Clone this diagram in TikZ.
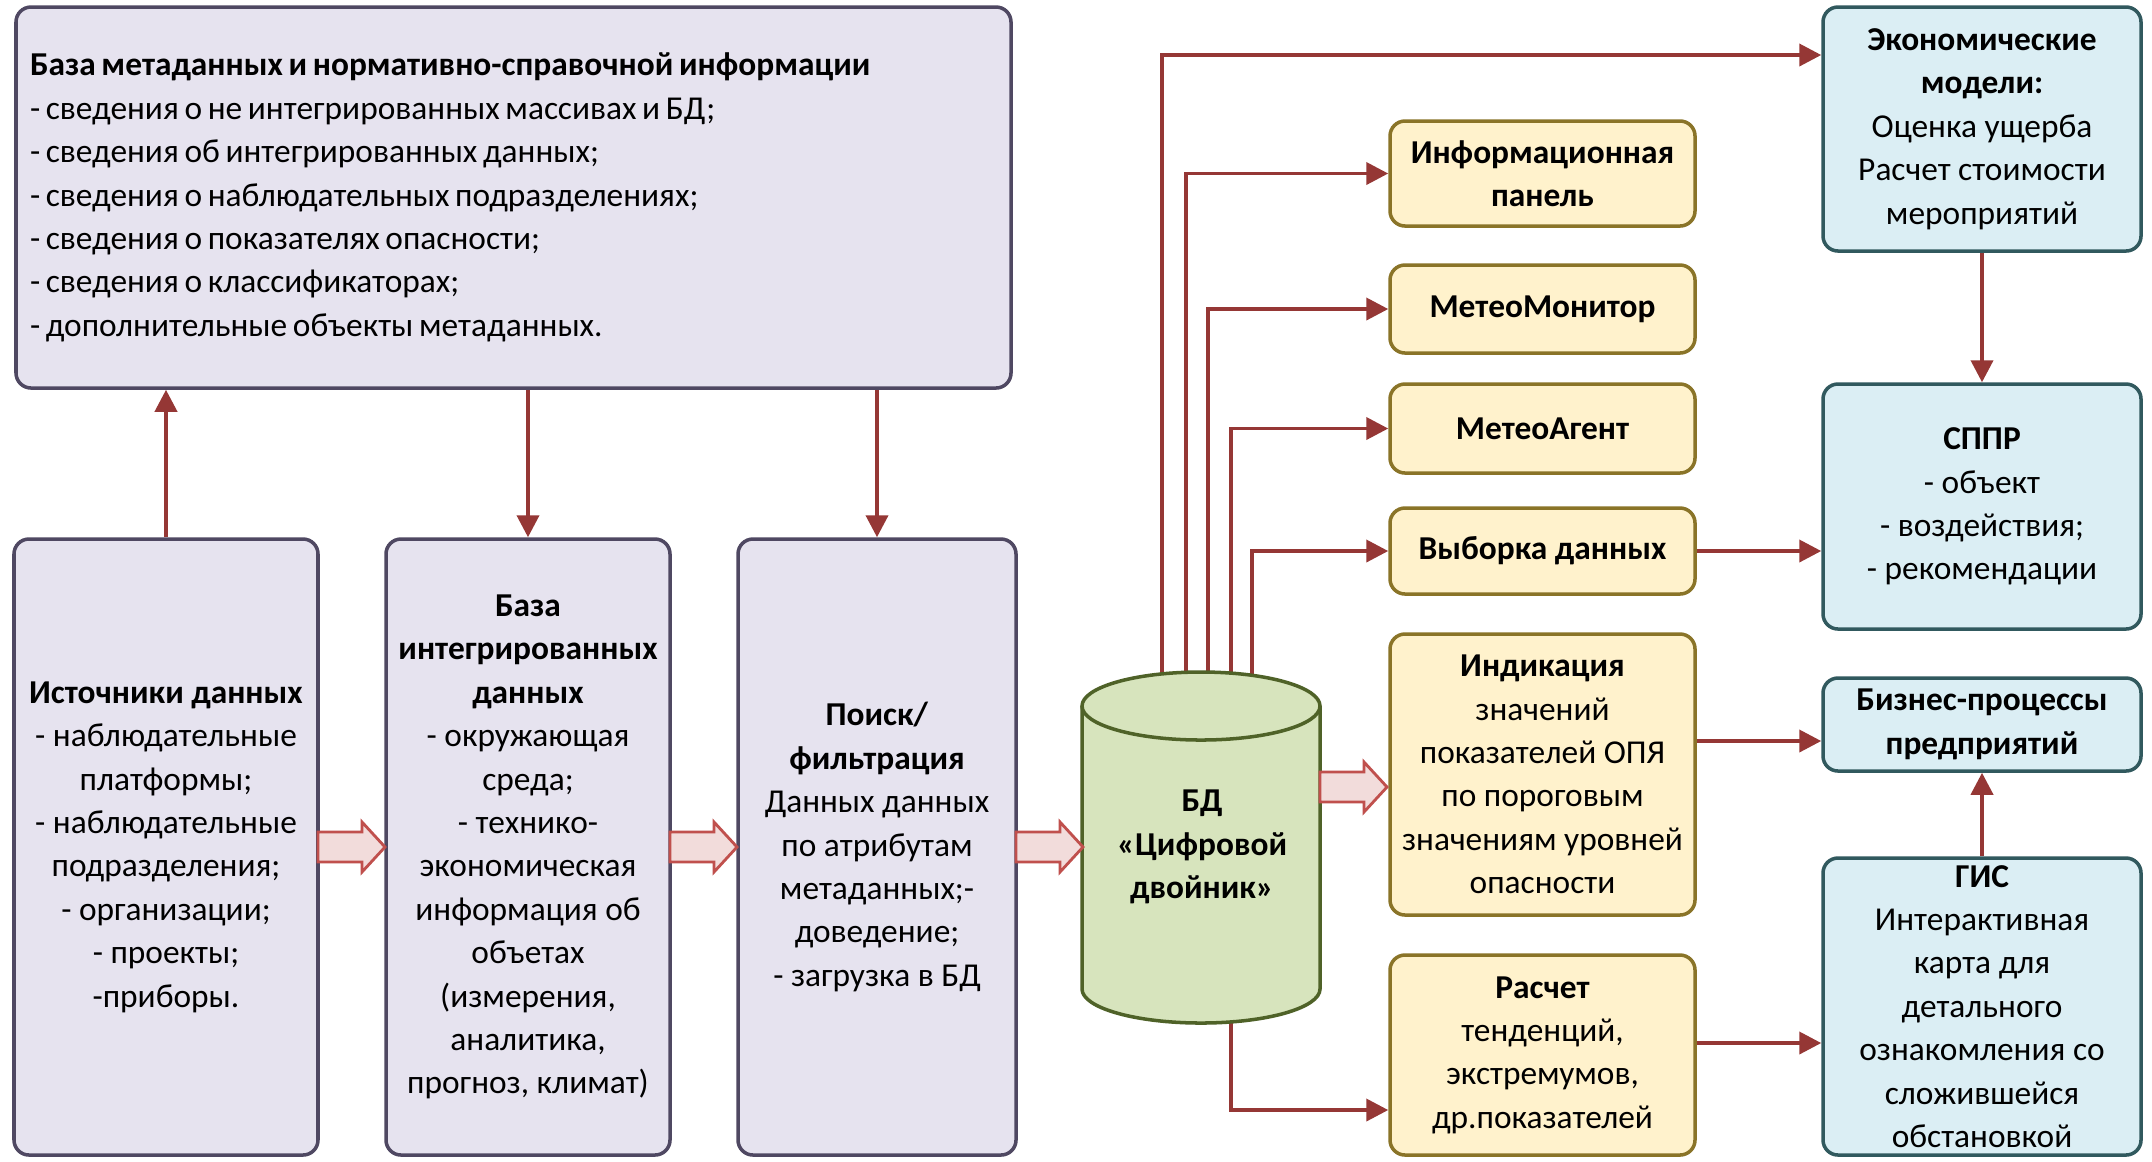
\documentclass[tikz,border=0pt]{standalone}
\usepackage{fontspec}
\setmainfont{Carlito}
\usetikzlibrary{arrows.meta}

\definecolor{lilafill}{HTML}{E6E3EF}
\definecolor{lilarand}{HTML}{4F4862}
\definecolor{gelbfill}{HTML}{FFF2CC}
\definecolor{gelbrand}{HTML}{8A7428}
\definecolor{blaufill}{HTML}{DBEEF4}
\definecolor{blaurand}{HTML}{31595E}
\definecolor{gruenfill}{HTML}{D7E4BD}
\definecolor{gruenrand}{HTML}{4F6228}
\definecolor{pfeilrot}{HTML}{953735}
\definecolor{blockfill}{HTML}{F2DCDB}
\definecolor{blockrand}{HTML}{C0504D}

\begin{document}
\begin{tikzpicture}[x=0.1mm,y=-0.1mm,
    every node/.style={font=\fontsize{9.5pt}{12.35pt}\selectfont, align=center, inner sep=0pt},
    kasten/.style={draw, line width=1pt, rounded corners=1.5mm},
    lila/.style={kasten, draw=lilarand, fill=lilafill},
    gelb/.style={kasten, draw=gelbrand, fill=gelbfill, minimum width=30.5mm},
    blau/.style={kasten, draw=blaurand, fill=blaufill, minimum width=31.8mm},
    pfeil/.style={draw=pfeilrot, line width=1.1pt, -{Triangle[length=2.2mm,width=2.2mm]}},
    dicker/.style={draw=blockrand, fill=blockfill, line width=0.8pt}]

    \fill[white] (0,0) rectangle (2152,1161);
    \useasboundingbox (0,0) rectangle (2152,1161);

    % Metadatenbasis oben links
    \node[lila, minimum width=99.5mm, minimum height=38.1mm, text width=96.7mm, align=left] (meta) at (513.5,197.5)
      {\spaceskip=0.75\fontdimen2\font
       \textbf{База метаданных и нормативно-справочной информации}\\
       - сведения о не интегрированных массивах и БД;\\
       - сведения об интегрированных данных;\\
       - сведения о наблюдательных подразделениях;\\
       - сведения о показателях опасности;\\
       - сведения о классификаторах;\\
       - дополнительные объекты метаданных.};

    % Die drei Kästen unten links
    \node[lila, minimum width=30.4mm, minimum height=61.6mm] (quellen) at (166,847)
      {\textbf{Источники данных}\\- наблюдательные\\платформы;\\- наблюдательные\\подразделения;\\- организации;\\- проекты;\\-приборы.};
    \node[lila, minimum width=28.4mm, minimum height=61.6mm] (intdb) at (528,847)
      {\textbf{База}\\\textbf{интегрированных}\\\textbf{данных}\\- окружающая\\среда;\\- технико-\\экономическая\\информация об\\объетах\\(измерения,\\аналитика,\\прогноз, климат)};
    \node[lila, minimum width=27.8mm, minimum height=61.6mm] (suche) at (877,847)
      {\textbf{Поиск/}\\\textbf{фильтрация}\\Данных данных\\по атрибутам\\метаданных;-\\доведение;\\- загрузка в БД};

    % Gelbe Kästen in der Mitte
    \node[gelb, minimum height=10.5mm] (info) at (1542.5,173.5) {\textbf{Информационная}\\\textbf{панель}};
    \node[gelb, minimum height=8.8mm] (monitor) at (1542.5,309) {\textbf{МетеоМонитор}};
    \node[gelb, minimum height=8.9mm] (agent) at (1542.5,428.5) {\textbf{МетеоАгент}};
    \node[gelb, minimum height=8.6mm] (auswahl) at (1542.5,551) {\textbf{Выборка данных}};
    \node[gelb, minimum height=28.1mm] (indik) at (1542.5,774.5)
      {\textbf{Индикация}\\значений\\показателей ОПЯ\\по пороговым\\значениям уровней\\опасности};
    \node[gelb, minimum height=20mm] (rechnung) at (1542.5,1055)
      {\textbf{Расчет}\\тенденций,\\экстремумов,\\др.показателей};

    % Blaue Kästen rechts
    \node[blau, minimum height=24.4mm] (oekon) at (1982,129)
      {\textbf{Экономические}\\\textbf{модели:}\\Оценка ущерба\\Расчет стоимости\\мероприятий};
    \node[blau, minimum height=24.5mm] (sppr) at (1982,506.5)
      {\textbf{СППР}\\- объект\\- воздействия;\\- рекомендации};
    \node[blau, minimum height=9.3mm] (business) at (1982,724.5)
      {\textbf{Бизнес-процессы}\\\textbf{предприятий}};
    \node[blau, minimum height=29.7mm] (gis) at (1982,1006.5)
      {\textbf{ГИС}\\Интерактивная\\карта для\\детального\\ознакомления со\\сложившейся\\обстановкой};

    % Pfeile zwischen Metadatenbasis und den unteren Kästen
    \draw[pfeil] (quellen.north) -- (meta.south -| quellen.north);
    \draw[pfeil] (meta.south -| intdb.north) -- (intdb.north);
    \draw[pfeil] (meta.south -| suche.north) -- (suche.north);

    % Variablen für die Anschlüsse am Zylinder
    \coordinate (z1) at (1162,706);
    \coordinate (z2) at (1186,706);
    \coordinate (z3) at (1208,706);
    \coordinate (z4) at (1231,706);
    \coordinate (z5) at (1252,706);
    \coordinate (zb) at (1231,989);

    % Pfeile vom Zylinder
    \draw[pfeil] (z1) |- (oekon.west |- 0,55);
    \draw[pfeil] (z2) |- (info.west);
    \draw[pfeil] (z3) |- (monitor.west);
    \draw[pfeil] (z4) |- (agent.west);
    \draw[pfeil] (z5) |- (auswahl.west);
    \draw[pfeil] (zb) |- (rechnung.west |- 0,1110);

    % Pfeile rechts
    \draw[pfeil] (auswahl.east) -- (sppr.west |- auswahl.east);
    \draw[pfeil] (indik.east |- 0,741) -- (business.west |- 0,741);
    \draw[pfeil] (rechnung.east |- 0,1043) -- (gis.west |- 0,1043);
    \draw[pfeil] (oekon.south) -- (sppr.north);
    \draw[pfeil] (gis.north) -- (business.south);

    % Zylinder
    \fill[gruenfill] (1082,706) rectangle (1320,989);
    \fill[gruenfill] (1201,989) ellipse [x radius=119, y radius=34];
    \fill[gruenfill] (1201,706) ellipse [x radius=119, y radius=34];
    \draw[gruenrand, line width=1pt] (1082,706) -- (1082,989) arc[start angle=180, end angle=0, x radius=119, y radius=34] -- (1320,706);
    \draw[gruenrand, line width=1pt] (1201,706) ellipse [x radius=119, y radius=34];
    \node[font=\fontsize{9.5pt}{12.35pt}\selectfont\bfseries] (bd) at (1202,847) {БД\\«Цифровой\\двойник»};

    % Dicke Blockpfeile
    \foreach \x/\y in {318/847, 670/847, 1016/847, 1320/787}
      \filldraw[dicker] (\x,{\y-15}) -- ({\x+44},{\y-15}) -- ({\x+44},{\y-25}) -- ({\x+67},\y)
        -- ({\x+44},{\y+25}) -- ({\x+44},{\y+15}) -- (\x,{\y+15}) -- cycle;
\end{tikzpicture}
\end{document}
